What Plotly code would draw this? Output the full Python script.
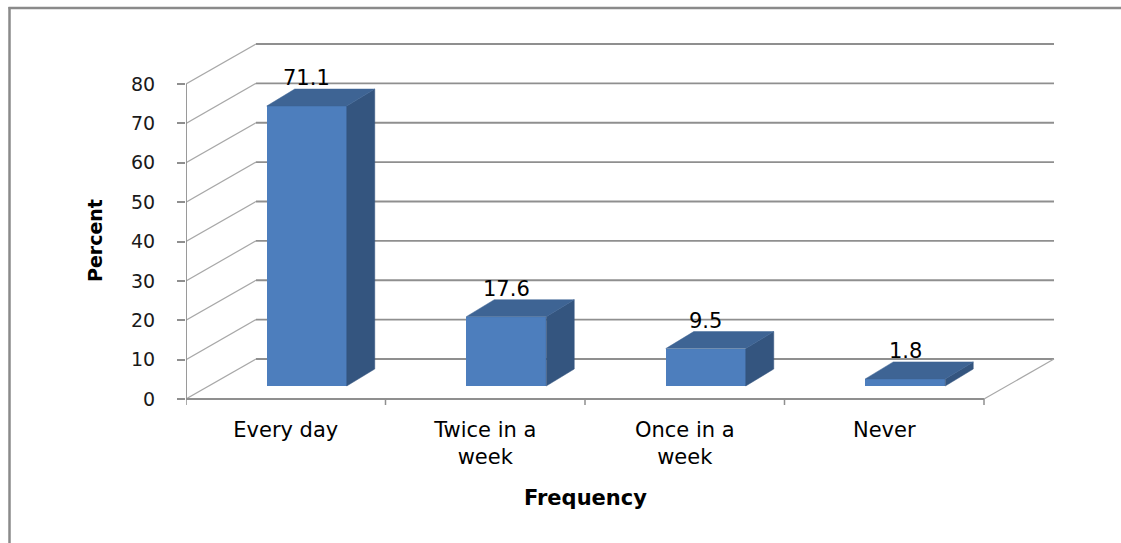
import plotly.graph_objects as go

# ---- data -------------------------------------------------------------
categories = ["Every day", "Twice in a<br>week", "Once in a<br>week", "Never"]
percent = [71.1, 17.6, 9.5, 1.8]
y_ticks = [0, 10, 20, 30, 40, 50, 60, 70, 80]

# ---- pseudo-3D geometry (category units on x, percent units on y) -----
PX_PER_CAT = 199.5          # pixels per category slot
PX_PER_PCT = 3.9375         # pixels per percent
WALL_DX = 70 / PX_PER_CAT   # depth of the back wall
WALL_DY = 40 / PX_PER_PCT
BAR_SHIFT = 21 / PX_PER_CAT # bar front face sits part-way into the depth
BAR_BASE = 13 / PX_PER_PCT
BAR_W = 80 / PX_PER_CAT
BAR_DX = 28 / PX_PER_CAT    # bar depth
BAR_DY = 17 / PX_PER_PCT

X_MIN = -0.5
X_MAX = len(categories) - 0.5
Y_TOP = max(y_ticks)

FRONT = "#4d7ebd"
TOP = "#3e6494"
SIDE = "#34557f"
GRID = "#8f8f8f"
WALL = "#a8a8a8"
FONT = "DejaVu Sans"

fig = go.Figure()
shapes = []

# back wall gridlines
for v in y_ticks:
    shapes.append(dict(type="line", layer="below", xref="x", yref="y",
                       x0=X_MIN + WALL_DX, x1=X_MAX + WALL_DX,
                       y0=v + WALL_DY, y1=v + WALL_DY,
                       line=dict(color=GRID, width=1.8)))
    # side wall diagonals
    shapes.append(dict(type="line", layer="below", xref="x", yref="y",
                       x0=X_MIN, x1=X_MIN + WALL_DX,
                       y0=v, y1=v + WALL_DY,
                       line=dict(color=WALL, width=1.2)))

# floor: front edge and right diagonal
shapes.append(dict(type="line", layer="below", xref="x", yref="y",
                   x0=X_MIN, x1=X_MAX, y0=0, y1=0,
                   line=dict(color=GRID, width=1.8)))
shapes.append(dict(type="line", layer="below", xref="x", yref="y",
                   x0=X_MAX, x1=X_MAX + WALL_DX, y0=0, y1=WALL_DY,
                   line=dict(color=WALL, width=1.2)))
# front value axis line
shapes.append(dict(type="line", layer="below", xref="x", yref="y",
                   x0=X_MIN, x1=X_MIN, y0=0, y1=Y_TOP,
                   line=dict(color=GRID, width=1.8)))
# category boundary ticks
for i in range(len(categories) + 1):
    xb = X_MIN + i
    shapes.append(dict(type="line", layer="below", xref="x", yref="y",
                       x0=xb, x1=xb, y0=0, y1=-6 / PX_PER_PCT,
                       line=dict(color=GRID, width=1.5)))

# outer chart frame (top and left edges)
L, R, T, B = 186, 1060, 40, 407
def px_to_paper_x(px):
    return (px - L) / (R - L)
def px_to_paper_y(py):
    return (B - py) / (B - T)
shapes.append(dict(type="line", xref="paper", yref="paper",
                   x0=px_to_paper_x(8.5), x1=px_to_paper_x(1121),
                   y0=px_to_paper_y(8), y1=px_to_paper_y(8),
                   line=dict(color="#8a8a8a", width=2.5)))
shapes.append(dict(type="line", xref="paper", yref="paper",
                   x0=px_to_paper_x(9.5), x1=px_to_paper_x(9.5),
                   y0=px_to_paper_y(7), y1=px_to_paper_y(543),
                   line=dict(color="#8a8a8a", width=2.5)))

# bar front faces
centers = list(range(len(categories)))
front_x = [c + BAR_SHIFT for c in centers]
fig.add_trace(go.Bar(x=front_x, y=percent, base=[BAR_BASE] * len(percent),
                     width=BAR_W, marker=dict(color=FRONT, line=dict(width=0)),
                     hoverinfo="skip", showlegend=False))

# bar side and top faces
for fx, v in zip(front_x, percent):
    xl, xr = fx - BAR_W / 2, fx + BAR_W / 2
    y0, y1 = BAR_BASE, BAR_BASE + v
    fig.add_trace(go.Scatter(
        x=[xr, xr + BAR_DX, xr + BAR_DX, xr, xr],
        y=[y0, y0 + BAR_DY, y1 + BAR_DY, y1, y0],
        fill="toself", fillcolor=SIDE, mode="lines",
        line=dict(color=SIDE, width=0.5), hoverinfo="skip", showlegend=False))
    fig.add_trace(go.Scatter(
        x=[xl, xr, xr + BAR_DX, xl + BAR_DX, xl],
        y=[y1, y1, y1 + BAR_DY, y1 + BAR_DY, y1],
        fill="toself", fillcolor=TOP, mode="lines",
        line=dict(color=TOP, width=0.5), hoverinfo="skip", showlegend=False))

# data labels above each bar
annotations = []
for fx, v in zip(front_x, percent):
    annotations.append(dict(x=fx, y=BAR_BASE + v + BAR_DY, xref="x", yref="y",
                            text=f"{v}", showarrow=False, yshift=11,
                            yanchor="middle",
                            font=dict(family=FONT, size=21, color="#000000")))

# axis titles
annotations.append(dict(x=px_to_paper_x(95), y=px_to_paper_y(241),
                        xref="paper", yref="paper",
                        xanchor="center", yanchor="middle",
                        text="<b>Percent</b>", textangle=-90, showarrow=False,
                        font=dict(family=FONT, size=19, color="#000000")))
annotations.append(dict(x=px_to_paper_x(585), y=px_to_paper_y(498),
                        xref="paper", yref="paper",
                        xanchor="center", yanchor="middle",
                        text="<b>Frequency</b>", showarrow=False,
                        font=dict(family=FONT, size=21, color="#000000")))

fig.update_layout(
    width=1121, height=543,
    margin=dict(l=L, r=1121 - R, t=T, b=543 - B, pad=0),
    paper_bgcolor="#ffffff", plot_bgcolor="#ffffff",
    shapes=shapes, annotations=annotations,
    bargap=0, showlegend=False,
)
fig.update_xaxes(
    range=[X_MIN, X_MIN + (R - L) / PX_PER_CAT],
    tickmode="array", tickvals=centers, ticktext=categories,
    ticks="", showgrid=False, zeroline=False, showline=False,
    tickfont=dict(family=FONT, size=21, color="#000000"),
    ticklabelstandoff=8, fixedrange=True,
)
fig.update_yaxes(
    range=[-(B - 399) / PX_PER_PCT, (399 - T) / PX_PER_PCT],
    tickmode="array", tickvals=y_ticks,
    ticks="outside", ticklen=8, tickwidth=1.5, tickcolor=GRID,
    showgrid=False, zeroline=False, showline=False,
    tickfont=dict(family=FONT, size=19, color="#1a1a1a"),
    ticklabelstandoff=18, fixedrange=True,
)

fig.write_html("out.html", config={"displayModeBar": False})
